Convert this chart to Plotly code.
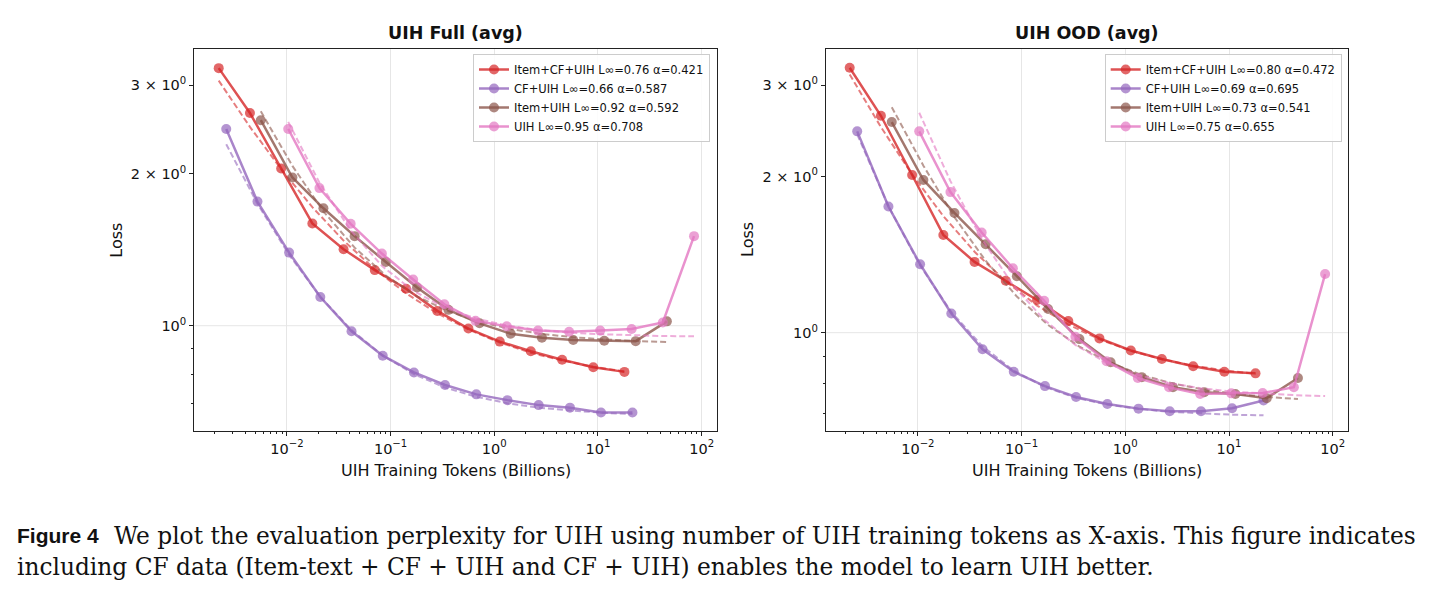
import plotly.graph_objects as go

# ---------------- data ----------------
tokens_red = [0.0022, 0.0044, 0.0088, 0.0176, 0.0352, 0.0704, 0.141, 0.282, 0.563, 1.13, 2.25, 4.51, 9.01, 18.0]
tokens_purple = [0.0026, 0.0052, 0.0105, 0.021, 0.042, 0.084, 0.168, 0.335, 0.671, 1.34, 2.68, 5.37, 10.7, 21.5]
tokens_brown = [0.0056, 0.0113, 0.0225, 0.045, 0.090, 0.180, 0.361, 0.721, 1.44, 2.88, 5.77, 11.5, 23.1, 46.2]
tokens_pink = [0.0103, 0.0206, 0.0412, 0.0824, 0.165, 0.330, 0.659, 1.32, 2.64, 5.27, 10.5, 21.1, 42.2, 84.4]

# UIH Full (avg)
full_red = [3.24, 2.64, 2.05, 1.595, 1.418, 1.289, 1.184, 1.070, 0.987, 0.930, 0.890, 0.856, 0.827, 0.810]
full_purple = [2.455, 1.762, 1.396, 1.140, 0.975, 0.872, 0.808, 0.763, 0.731, 0.712, 0.696, 0.688, 0.673, 0.673]
full_brown = [2.555, 1.967, 1.709, 1.505, 1.338, 1.191, 1.075, 1.011, 0.964, 0.947, 0.937, 0.934, 0.932, 1.020]
full_pink = [2.455, 1.874, 1.592, 1.390, 1.235, 1.103, 1.023, 0.997, 0.978, 0.973, 0.978, 0.985, 1.015, 1.505]

full_red_fit = [3.06, 2.478, 2.043, 1.718, 1.475, 1.294, 1.159, 1.058, 0.983, 0.926, 0.884, 0.853, 0.829, 0.812]
full_purple_fit = [2.29, 1.745, 1.382, 1.141, 0.980, 0.873, 0.802, 0.754, 0.723, 0.702, 0.688, 0.679, 0.672, 0.668]
full_brown_fit = [2.66, 2.074, 1.685, 1.428, 1.257, 1.143, 1.068, 1.018, 0.985, 0.963, 0.949, 0.939, 0.933, 0.928]
full_pink_fit = [2.535, 1.921, 1.545, 1.314, 1.173, 1.087, 1.034, 1.001, 0.981, 0.969, 0.962, 0.957, 0.954, 0.953]

# UIH OOD (avg)
ood_red = [3.24, 2.618, 2.013, 1.543, 1.369, 1.259, 1.156, 1.053, 0.975, 0.924, 0.890, 0.862, 0.841, 0.835]
ood_purple = [2.443, 1.750, 1.355, 1.089, 0.929, 0.841, 0.789, 0.752, 0.729, 0.714, 0.706, 0.706, 0.715, 0.740]
ood_brown = [2.546, 1.969, 1.701, 1.481, 1.285, 1.111, 0.972, 0.877, 0.821, 0.785, 0.768, 0.762, 0.748, 0.818]
ood_pink = [2.443, 1.866, 1.560, 1.331, 1.152, 0.982, 0.881, 0.818, 0.785, 0.762, 0.764, 0.765, 0.785, 1.297]

ood_red_fit = [3.145, 2.49, 2.018, 1.677, 1.432, 1.256, 1.128, 1.037, 0.971, 0.923, 0.889, 0.864, 0.846, 0.833]
ood_purple_fit = [2.41, 1.753, 1.347, 1.096, 0.941, 0.845, 0.786, 0.749, 0.727, 0.713, 0.704, 0.699, 0.695, 0.693]
ood_brown_fit = [2.72, 2.098, 1.670, 1.376, 1.174, 1.035, 0.940, 0.874, 0.829, 0.798, 0.777, 0.762, 0.752, 0.745]
ood_pink_fit = [2.653, 1.959, 1.517, 1.237, 1.059, 0.947, 0.875, 0.829, 0.800, 0.782, 0.770, 0.763, 0.758, 0.755]

full_labels = ["Item+CF+UIH L∞=0.76 α=0.421", "CF+UIH L∞=0.66 α=0.587",
               "Item+UIH L∞=0.92 α=0.592", "UIH L∞=0.95 α=0.708"]
ood_labels = ["Item+CF+UIH L∞=0.80 α=0.472", "CF+UIH L∞=0.69 α=0.695",
              "Item+UIH L∞=0.73 α=0.541", "UIH L∞=0.75 α=0.655"]

x_tickvals = [0.01, 0.1, 1, 10, 100]
x_ticktext = ["10<sup>−2</sup>", "10<sup>−1</sup>", "10<sup>0</sup>", "10<sup>1</sup>", "10<sup>2</sup>"]
x_minor = [m * 10 ** e for e in range(-3, 3) for m in range(2, 10)]
y_tickvals = [1, 2, 3]
y_ticktext = ["10<sup>0</sup>", "2 × 10<sup>0</sup>", "3 × 10<sup>0</sup>"]
y_minor = [0.6, 0.7, 0.8, 0.9]

colors = ["214,39,40", "148,103,189", "140,86,75", "227,119,194"]
tokens = [tokens_red, tokens_purple, tokens_brown, tokens_pink]

FONT = "DejaVu Sans"
fig = go.Figure()

panels = [
    ("x", "y", "legend", [full_red, full_purple, full_brown, full_pink],
     [full_red_fit, full_purple_fit, full_brown_fit, full_pink_fit], full_labels),
    ("x2", "y2", "legend2", [ood_red, ood_purple, ood_brown, ood_pink],
     [ood_red_fit, ood_purple_fit, ood_brown_fit, ood_pink_fit], ood_labels),
]

for xa, ya, lg, series, fits, labels in panels:
    for c, tk, s, f, lab in zip(colors, tokens, series, fits, labels):
        fig.add_trace(go.Scatter(
            x=tk, y=s, mode="lines+markers", name=lab, legend=lg,
            xaxis=xa, yaxis=ya,
            line=dict(color=f"rgba({c},0.8)", width=2.5),
            marker=dict(color=f"rgba({c},0.7)", size=10, line=dict(width=0)),
        ))
        fig.add_trace(go.Scatter(
            x=tk, y=f, mode="lines", showlegend=False,
            xaxis=xa, yaxis=ya,
            line=dict(color=f"rgba({c},0.6)", width=2, dash="6px,3px"),
        ))

W, H = 1442, 597


def px_x(p):
    return p / W


def px_y(p):
    return 1 - p / H


axis_common = dict(
    type="log", showline=True, linecolor="#222", linewidth=1.2, mirror=True,
    ticks="outside", ticklen=4, tickwidth=1, tickcolor="#222",
    tickfont=dict(family=FONT, size=14.5, color="#111"),
    zeroline=False,
)

legend_common = dict(xanchor="right", yanchor="top",
                     bgcolor="rgba(255,255,255,0.85)", bordercolor="#cccccc", borderwidth=1,
                     font=dict(family=FONT, size=11.5, color="#111"), itemwidth=30,
                     tracegroupgap=0)

fig.update_layout(
    width=W, height=H,
    margin=dict(l=0, r=0, t=0, b=0),
    paper_bgcolor="white", plot_bgcolor="white",
    font=dict(family=FONT, color="#111"),
    xaxis=dict(**axis_common, domain=[px_x(194.3), px_x(716.7)], anchor="y",
               range=[-2.893, 2.145], tickvals=x_tickvals, ticktext=x_ticktext,
               showgrid=True, gridcolor="#e6e6e6", gridwidth=1,
               minor=dict(tickvals=x_minor, ticks="outside", ticklen=2, tickcolor="#222", showgrid=False)),
    yaxis=dict(**axis_common, domain=[px_y(431), px_y(49)], anchor="x",
               range=[-0.2087, 0.5485], tickvals=y_tickvals, ticktext=y_ticktext,
               showgrid=False,
               minor=dict(tickvals=y_minor, ticks="outside", ticklen=2, tickcolor="#222", showgrid=False)),
    xaxis2=dict(**axis_common, domain=[px_x(826), px_x(1348.3)], anchor="y2",
                range=[-2.886, 2.150], tickvals=x_tickvals, ticktext=x_ticktext,
                showgrid=True, gridcolor="#e6e6e6", gridwidth=1,
                minor=dict(tickvals=x_minor, ticks="outside", ticklen=2, tickcolor="#222", showgrid=False)),
    yaxis2=dict(**axis_common, domain=[px_y(431), px_y(49)], anchor="x2",
                range=[-0.1894, 0.5466], tickvals=y_tickvals, ticktext=y_ticktext,
                showgrid=False,
                minor=dict(tickvals=y_minor, ticks="outside", ticklen=2, tickcolor="#222", showgrid=False)),
    legend=dict(x=px_x(710), y=px_y(54), **legend_common),
    legend2=dict(x=px_x(1341.7), y=px_y(54), **legend_common),
    showlegend=True,
)

# horizontal major grid line at loss = 1
for xa, ya in [("x", "y"), ("x2", "y2")]:
    fig.add_shape(type="line", xref=f"{xa} domain", yref=ya, x0=0, x1=1, y0=1, y1=1,
                  line=dict(color="#e6e6e6", width=1), layer="below")

ann = []
# titles
for cx, txt in [((194.3 + 716.7) / 2, "UIH Full (avg)"), ((826 + 1348.3) / 2, "UIH OOD (avg)")]:
    ann.append(dict(x=px_x(cx), y=px_y(33), xref="paper", yref="paper", text=f"<b>{txt}</b>",
                    showarrow=False, font=dict(family=FONT, size=17.5, color="#111"),
                    xanchor="center", yanchor="middle"))
    ann.append(dict(x=px_x(cx), y=px_y(470), xref="paper", yref="paper",
                    text="UIH Training Tokens (Billions)", showarrow=False,
                    font=dict(family=FONT, size=16, color="#111"), xanchor="center", yanchor="middle"))
for lx in [116.7, 748]:
    ann.append(dict(x=px_x(lx), y=px_y(240), xref="paper", yref="paper", text="Loss",
                    textangle=-90, showarrow=False, font=dict(family=FONT, size=16, color="#111"),
                    xanchor="center", yanchor="middle"))

# caption
ann.append(dict(x=px_x(15), y=px_y(535), xref="paper", yref="paper", text="<b>Figure 4</b>",
                showarrow=False, font=dict(family="Liberation Sans", size=21, color="#111"),
                xanchor="left", yanchor="middle"))
ann.append(dict(x=px_x(112), y=px_y(535), xref="paper", yref="paper",
                text="We plot the evaluation perplexity for UIH using number of UIH training tokens as X-axis. This figure indicates",
                showarrow=False, font=dict(family="DejaVu Serif", size=23.3, color="#111"),
                xanchor="left", yanchor="middle"))
ann.append(dict(x=px_x(15), y=px_y(566), xref="paper", yref="paper",
                text="including CF data (Item-text + CF + UIH and CF + UIH) enables the model to learn UIH better.",
                showarrow=False, font=dict(family="DejaVu Serif", size=23.3, color="#111"),
                xanchor="left", yanchor="middle"))
fig.update_layout(annotations=ann)

fig.write_html("out.html")
